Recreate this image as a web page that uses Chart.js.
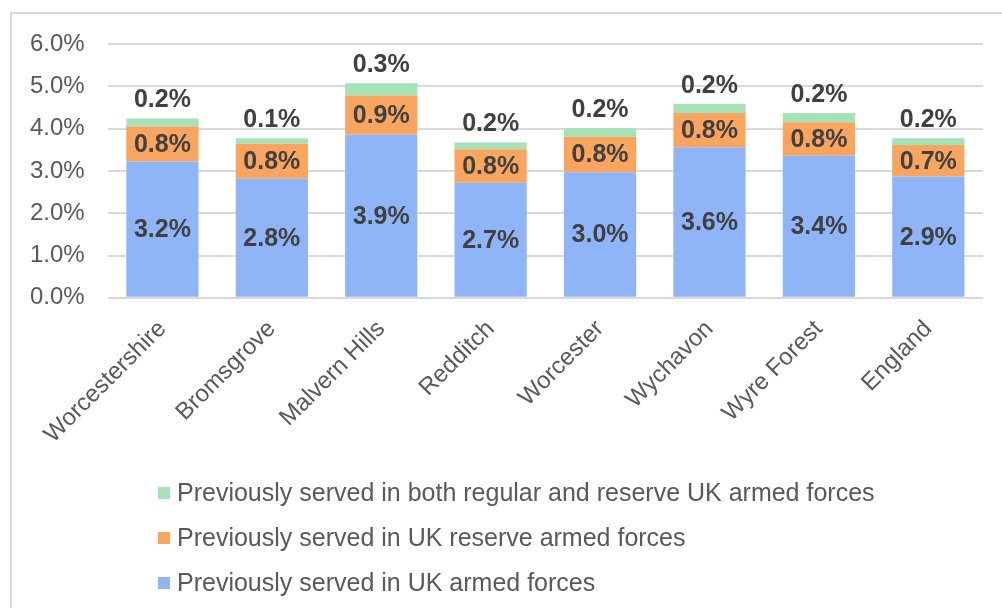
<!DOCTYPE html>
<html>
<head>
<meta charset="utf-8">
<script src="https://cdn.jsdelivr.net/npm/chart.js@4.4.0/dist/chart.umd.min.js"></script>
<style>
html,body{margin:0;padding:0;background:#fff;width:1002px;height:608px;overflow:hidden;}
#wrap{position:relative;width:1002px;height:608px;}
#frame{position:absolute;left:10px;top:12px;width:1010px;height:620px;border:2px solid #d9d9d9;box-sizing:border-box;}
#chart{position:absolute;left:0;top:0;}
#legend{position:absolute;left:158px;top:470px;font-family:"Liberation Sans",Arial,sans-serif;font-size:25px;color:#595959;}
.item{display:flex;align-items:center;height:45px;white-space:nowrap;}
.box{width:12px;height:12px;margin-right:7px;flex:none;}
</style>
</head>
<body>
<div id="wrap">
  <div id="frame"></div>
  <canvas id="chart" width="1002" height="608"></canvas>
  <div id="legend"></div>
</div>
<script>
const categories = ["Worcestershire","Bromsgrove","Malvern Hills","Redditch","Worcester","Wychavon","Wyre Forest","England"];
const servedRegular = [3.22, 2.82, 3.86, 2.72, 2.97, 3.56, 3.36, 2.87];
const servedReserve = [0.83, 0.82, 0.92, 0.79, 0.84, 0.81, 0.79, 0.74];
const servedBoth    = [0.19, 0.13, 0.29, 0.16, 0.20, 0.22, 0.22, 0.16];
const seriesNames = [
  "Previously served in UK armed forces",
  "Previously served in UK reserve armed forces",
  "Previously served in both regular and reserve UK armed forces"
];
const yTickValues = [0, 1, 2, 3, 4, 5, 6];

const FONT = '"Liberation Sans", Arial, sans-serif';
const colors = ["#8FB4F8", "#F9A45F", "#A6E2B8"];

const valueLabels = {
  id: 'valueLabels',
  afterDatasetsDraw(chart) {
    const ctx = chart.ctx;
    ctx.save();
    ctx.font = 'bold 25px ' + FONT;
    ctx.fillStyle = '#404040';
    ctx.textAlign = 'center';
    ctx.textBaseline = 'middle';
    const last = chart.data.datasets.length - 1;
    chart.data.datasets.forEach((ds, di) => {
      const meta = chart.getDatasetMeta(di);
      meta.data.forEach((bar, i) => {
        const txt = ds.data[i].toFixed(1) + '%';
        const y = di === last ? bar.y - 18 : (bar.y + bar.base) / 2 + 1;
        ctx.fillText(txt, bar.x, y);
      });
    });
    ctx.restore();
  }
};

const seriesData = [servedRegular, servedReserve, servedBoth];
const chart = new Chart(document.getElementById('chart'), {
  type: 'bar',
  data: {
    labels: categories,
    datasets: seriesData.map((d, i) => ({
      label: seriesNames[i],
      data: d,
      backgroundColor: colors[i],
      borderWidth: 0,
      categoryPercentage: 1,
      barPercentage: 0.66
    }))
  },
  options: {
    responsive: false,
    animation: false,
    devicePixelRatio: 1,
    layout: { padding: { left: 7, right: 19, top: 44, bottom: 142 } },
    plugins: { legend: { display: false }, tooltip: { enabled: false } },
    scales: {
      x: {
        stacked: true,
        grid: { display: false, drawTicks: false },
        border: { display: false },
        afterFit: (scale) => { scale.paddingLeft = 0; scale.paddingRight = 0; },
        ticks: {
          font: { family: FONT, size: 24 },
          color: '#595959',
          minRotation: 45, maxRotation: 45,
          autoSkip: false,
          padding: 17
        }
      },
      y: {
        stacked: true,
        min: 0, max: 6,
        afterBuildTicks: (axis) => { axis.ticks = yTickValues.map(v => ({ value: v })); },
        grid: { color: '#d9d9d9', lineWidth: 2, drawTicks: false },
        border: { display: false },
        ticks: {
          font: { family: FONT, size: 24 },
          color: '#595959',
          padding: 23,
          callback: (v) => Number(v).toFixed(1) + '%'
        }
      }
    }
  },
  plugins: [valueLabels]
});

const legendEl = document.getElementById('legend');
chart.data.datasets.slice().reverse().forEach(ds => {
  const row = document.createElement('div');
  row.className = 'item';
  const box = document.createElement('span');
  box.className = 'box';
  box.style.background = ds.backgroundColor;
  const t = document.createElement('span');
  t.textContent = ds.label;
  row.appendChild(box); row.appendChild(t);
  legendEl.appendChild(row);
});
</script>
</body>
</html>
